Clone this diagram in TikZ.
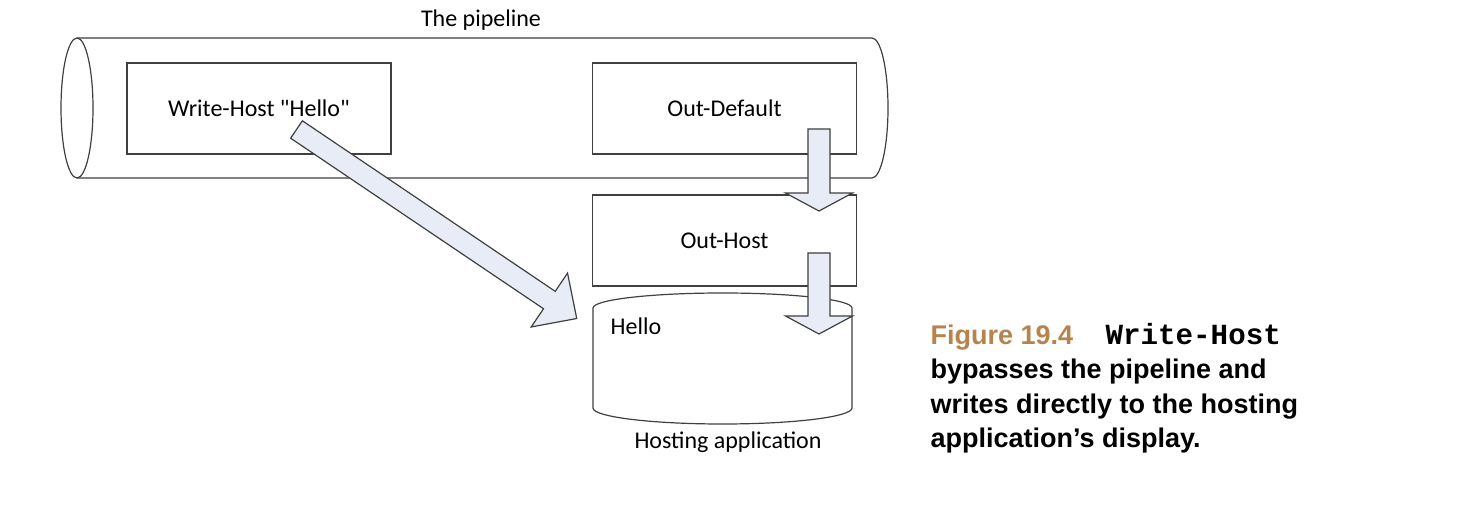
\documentclass[tikz,border=0pt]{standalone}
\usepackage{fontspec}
\setmainfont{Carlito}[Ligatures=TeXOff]
\newfontfamily\capsans{Liberation Sans}
\newfontfamily\capmono{Liberation Mono}
\begin{document}
\begin{tikzpicture}[x=0.5pt, y=-0.5pt, line width=0.6pt,
        stage/.style={draw=linegray, fill=white, minimum width=132pt, minimum height=45.5pt, font=\fontsize{12}{14}\selectfont},
        label/.style={font=\fontsize{12}{14}\selectfont},
        fatarrow/.style={draw=linegray, fill=arrowblue, line join=miter},
        captext/.style={anchor=base west, inner sep=0pt, font=\capsans\bfseries\fontsize{13.5}{16}\selectfont}]
        \definecolor{linegray}{RGB}{64,64,64}
        \definecolor{arrowblue}{RGB}{232,236,246}
        \definecolor{figbrown}{RGB}{183,131,76}
        \useasboundingbox (0,0) rectangle (1460,512);
        \draw[draw=linegray, fill=white] (77,38) -- (872,38) arc[start angle=-90, end angle=90, x radius=16, y radius=70] -- (77,178);
        \draw[draw=linegray, fill=white] (77,108) ellipse[x radius=16, y radius=70];
        \node[label] (title) at (481,20) {The pipeline};
        \node[stage] (write) at (259,108.5) {Write-Host "Hello"};
        \node[stage] (outdef) at (724.5,108.5) {Out-Default};
        \node[stage] (outhost) at (724.5,240.5) {Out-Host};
        \draw[draw=linegray, fill=white] (593,308) arc[start angle=180, end angle=360, x radius=129.5, y radius=15] -- (852,408) arc[start angle=0, end angle=180, x radius=129.5, y radius=16] -- cycle;
        \node[label, anchor=west, inner sep=0pt] (hello) at (610,326) {Hello};
        \node[label] (host) at (728,442) {Hosting application};
        \coordinate (bypass) at (296.5,129.5);
        \coordinate (todef) at (819,129);
        \coordinate (tohost) at (819,253);
        \begin{scope}[shift={(bypass)}, rotate=-34]
            \draw[fatarrow] (0,-10.5) -- (305,-10.5) -- (305,-32.5) -- (338,0) -- (305,32.5) -- (305,10.5) -- (0,10.5) -- cycle;
        \end{scope}
        \begin{scope}[shift={(todef)}]
            \draw[fatarrow] (-11,0) -- (11,0) -- (11,64) -- (33.5,64) -- (0,82) -- (-33.5,64) -- (-11,64) -- cycle;
        \end{scope}
        \begin{scope}[shift={(tohost)}]
            \draw[fatarrow] (-11,0) -- (11,0) -- (11,63) -- (33.5,63) -- (0,81) -- (-33.5,63) -- (-11,63) -- cycle;
        \end{scope}
        \node[captext, text=figbrown] (fig) at (930,345) {Figure 19.4};
        \node[captext, font=\capmono\bfseries\fontsize{14.6}{16}\selectfont] (cmd) at (1105,345) {Write-Host};
        \node[captext] (cap2) at (930,379) {bypasses the pipeline and};
        \node[captext] (cap3) at (930,414) {writes directly to the hosting};
        \node[captext] (cap4) at (930,448) {application’s display.};
    \end{tikzpicture}
\end{document}
